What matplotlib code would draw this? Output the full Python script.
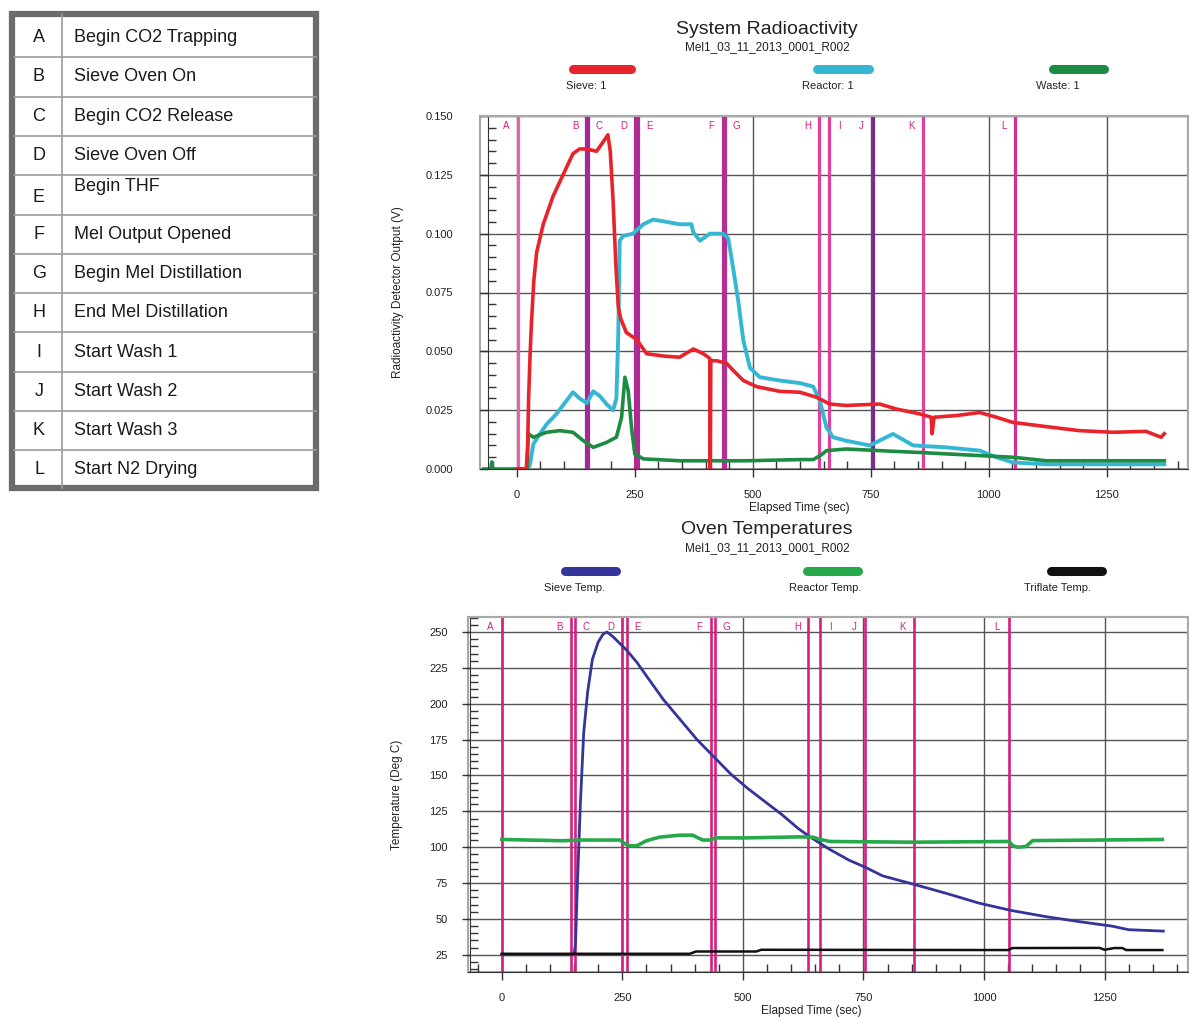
import matplotlib
matplotlib.use("Agg")
import matplotlib.pyplot as plt
from matplotlib.ticker import MultipleLocator, FormatStrFormatter
from matplotlib.lines import Line2D
from matplotlib.patches import Rectangle
from matplotlib.transforms import blended_transform_factory

plt.rcParams['font.family'] = ['Liberation Sans', 'DejaVu Sans']

# ---------------- data ----------------
event_letters = ['A', 'B', 'C', 'D', 'E', 'F', 'G', 'H', 'I', 'J', 'K', 'L']
event_names = ['Begin CO2 Trapping', 'Sieve Oven On', 'Begin CO2 Release', 'Sieve Oven Off',
               'Begin THF', 'Mel Output Opened', 'Begin Mel Distillation', 'End Mel Distillation',
               'Start Wash 1', 'Start Wash 2', 'Start Wash 3', 'Start N2 Drying']
# event times (sec)
event_t_radio = [2, 147, 150, 250, 257, 436, 441, 640, 661, 754, 860, 1055]
event_t_temp = [0, 143, 151, 249, 259, 433, 443, 636, 659, 754, 854, 1051]
label_side = ['L', 'L', 'R', 'L', 'R', 'L', 'R', 'L', 'R', 'L', 'L', 'L']

radio_title = 'System Radioactivity'
temp_title = 'Oven Temperatures'
run_id = 'Mel1_03_11_2013_0001_R002'

radio_ticks_x = [0, 250, 500, 750, 1000, 1250]
radio_ticks_y = [0.000, 0.025, 0.050, 0.075, 0.100, 0.125, 0.150]
temp_ticks_y = [25, 50, 75, 100, 125, 150, 175, 200, 225, 250]

# Sieve 1 detector (V)
t_sieve = [0, 20, 23, 25, 28, 31, 36, 42, 56, 77, 98, 119, 133, 148, 169, 183, 193, 198, 204,
           210, 215, 220, 232, 254, 275, 310, 345, 374, 395, 409, 410, 411, 423, 444, 458, 480,
           508, 557, 600, 635, 663, 698, 769, 804, 854, 878, 880, 884, 931, 981, 1016, 1051,
           1122, 1192, 1263, 1333, 1365, 1372]
v_sieve = [0.000, 0.000, 0.010, 0.030, 0.048, 0.062, 0.080, 0.092, 0.104, 0.116, 0.125, 0.134,
           0.136, 0.136, 0.135, 0.139, 0.142, 0.135, 0.114, 0.086, 0.069, 0.064, 0.058, 0.055,
           0.049, 0.048, 0.0475, 0.051, 0.049, 0.047, 0.000, 0.046, 0.046, 0.045, 0.042, 0.0376,
           0.035, 0.033, 0.0326, 0.0305, 0.0276, 0.027, 0.0276, 0.0255, 0.0234, 0.022, 0.015,
           0.022, 0.0227, 0.024, 0.022, 0.0198, 0.018, 0.0163, 0.0156, 0.016, 0.0135, 0.015]

# Reactor 1 detector (V)
t_reactor = [0, 24, 28, 35, 49, 63, 84, 105, 119, 133, 148, 162, 176, 190, 204, 211, 215, 218,
             225, 246, 268, 289, 317, 345, 370, 374, 388, 409, 437, 448, 458, 469, 480, 494,
             515, 557, 600, 628, 642, 656, 670, 698, 748, 797, 840, 910, 981, 1016, 1051, 1122,
             1263, 1372]
v_reactor = [0.000, 0.000, 0.002, 0.0106, 0.0149, 0.019, 0.0234, 0.029, 0.0326, 0.030, 0.028,
             0.033, 0.031, 0.0276, 0.025, 0.030, 0.057, 0.097, 0.099, 0.100, 0.104, 0.106,
             0.105, 0.104, 0.104, 0.1006, 0.097, 0.100, 0.100, 0.098, 0.0858, 0.0716, 0.0546,
             0.043, 0.039, 0.0376, 0.0365, 0.035, 0.029, 0.0177, 0.0135, 0.012, 0.010, 0.0149,
             0.010, 0.0092, 0.0078, 0.005, 0.0028, 0.002, 0.002, 0.002]

# Waste 1 detector (V)
t_waste = [-70, -55, -53, -51, 0, 22, 24, 35, 63, 91, 119, 141, 162, 190, 211, 222, 229, 236,
           243, 250, 268, 345, 487, 600, 628, 645, 656, 698, 769, 854, 981, 1051, 1122, 1372]
v_waste = [0.000, 0.000, 0.003, 0.000, 0.000, 0.000, 0.015, 0.0135, 0.0156, 0.0163, 0.0156,
           0.012, 0.0092, 0.0113, 0.0135, 0.022, 0.039, 0.0333, 0.0177, 0.0064, 0.0043, 0.0035,
           0.0035, 0.004, 0.004, 0.006, 0.0078, 0.0085, 0.0078, 0.007, 0.0057, 0.005, 0.0035,
           0.0035]

# Sieve oven temperature (deg C)
t_sieve_temp = [0, 150, 153, 157, 163, 170, 178, 188, 200, 210, 218, 230, 245, 260, 280, 300,
                335, 370, 405, 440, 475, 510, 545, 580, 615, 640, 680, 720, 754, 790, 856, 920,
                990, 1055, 1130, 1200, 1265, 1300, 1372]
v_sieve_temp = [25, 25, 33, 75, 130, 180, 208, 231, 243, 248.5, 250, 247, 242, 237, 229, 219.5,
                203, 189, 175, 163, 151, 141, 132, 123, 113, 107, 98.5, 91, 86, 80, 74, 68, 61,
                56, 51.5, 48, 45, 42.5, 41.5]

# Reactor oven temperature (deg C)
t_reactor_temp = [0, 127, 162, 245, 255, 265, 280, 300, 327, 369, 396, 407, 417, 431, 445, 507,
                  617, 645, 660, 680, 852, 1052, 1060, 1070, 1087, 1101, 1370]
v_reactor_temp = [105.4, 104.5, 105, 105, 102.5, 101, 101, 104.5, 107, 108.4, 108.4, 106.5,
                  105, 105, 106.5, 106.5, 107.2, 107, 105.5, 104, 103.5, 104, 101, 100, 100.5,
                  104.6, 105.4]

# Triflate oven temperature (deg C)
t_triflate = [0, 390, 403, 528, 538, 1050, 1059, 1240, 1250, 1270, 1287, 1295, 1370]
v_triflate = [25.7, 25.7, 27.3, 27.3, 28.5, 28.3, 29.7, 29.8, 28.5, 29.7, 29.7, 28.3, 28.3]

# ---------------- styles ----------------
W, H = 1189, 1017
C_RED, C_CYAN, C_WASTE = '#e8232b', '#35b6d3', '#1d8c43'
C_STEMP, C_RTEMP, C_TTEMP = '#34349a', '#27a84a', '#111111'
C_EVT = '#d4207f'
evt_colors_radio = ['#e266a6', '#a3289a', '#a3289a', '#b02a95', '#b02a95', '#b43090', '#b43090',
                    '#e0409a', '#e0409a', '#7a2a90', '#e0409a', '#d4308f']
GRID = '#555555'
FRAME = '#a8a8a8'


def fx(x):
    return x / W


def fy(y):
    return 1 - y / H


fig = plt.figure(figsize=(W / 100, H / 100), dpi=100)
fig.patch.set_facecolor('white')

# ---------------- event table ----------------
axt = fig.add_axes([0, 0, 1, 1], zorder=-5)
axt.set_xlim(0, W)
axt.set_ylim(H, 0)
axt.axis('off')
row_h = 39.3
top0 = 18
for k in range(1, len(event_letters)):
    axt.plot([14, 316], [top0 + k * row_h] * 2, color='#9c9c9c', lw=1.2)
axt.plot([62, 62], [14, 488], color='#9c9c9c', lw=1.2)
axt.add_patch(Rectangle((12, 14), 304, 474, fill=False, ec='#6b6b6b', lw=4.5))
for k, (let, name) in enumerate(zip(event_letters, event_names)):
    yc = top0 + (k + 0.5) * row_h
    dy_l, dy_n = (3, -8) if let == 'E' else (0, 0)
    axt.text(39, yc + dy_l, let, ha='center', va='center', fontsize=13, color='#1a1a1a')
    axt.text(74, yc + dy_n, name, ha='left', va='center', fontsize=13, color='#1a1a1a')


# ---------------- helpers ----------------
def style_axes(ax, spine_x, ylab, xminor, yminor, ypad):
    ax.set_facecolor('white')
    for s in ['top', 'right']:
        ax.spines[s].set_color(FRAME)
        ax.spines[s].set_linewidth(1.5)
    ax.spines['left'].set_position(('data', spine_x))
    ax.spines['left'].set_color('#333333')
    ax.spines['bottom'].set_color('#333333')
    ax.add_patch(Rectangle((0, 0), 1, 1, transform=ax.transAxes, fill=False, ec=FRAME,
                           lw=1.5, zorder=0.5, clip_on=False))
    ax.grid(True, which='major', color=GRID, lw=1.0, zorder=0)
    ax.set_axisbelow(True)
    ax.xaxis.set_minor_locator(MultipleLocator(xminor))
    ax.yaxis.set_minor_locator(MultipleLocator(yminor))
    ax.tick_params(which='major', direction='out', length=6, width=1, color='#333333',
                   labelsize=8, labelcolor='#222222')
    ax.tick_params(axis='y', which='major', pad=ypad)
    ax.tick_params(axis='x', which='major', pad=9)
    ax.tick_params(which='minor', direction='in', length=6, width=1, color='#333333')
    ax.set_xlabel('Elapsed Time (sec)', fontsize=8.5, color='#222222')
    ax.set_ylabel(ylab, fontsize=8.5, color='#222222')


def draw_events(ax, times, colors, lw):
    trans = blended_transform_factory(ax.transData, ax.transAxes)
    for let, t, side, c in zip(event_letters, times, label_side, colors):
        ax.axvline(t, color=c, lw=lw, zorder=1.5)
        off = -8 if side == 'L' else 8
        ax.annotate(let, xy=(t, 0.972), xycoords=trans, xytext=(off, 0),
                    textcoords='offset points', ha='center', va='center', fontsize=7,
                    color=C_EVT, zorder=3)


def legend_row(y_bar, y_lab, items):
    for (x0, x1, xl, c, lab) in items:
        cap = 4.5
        fig.add_artist(Line2D([fx(x0 + cap), fx(x1 - cap)], [fy(y_bar)] * 2, lw=6.5, color=c,
                              solid_capstyle='round', transform=fig.transFigure))
        fig.text(fx(xl), fy(y_lab), lab, ha='center', va='center', fontsize=8, color='#222222')


# ---------------- top chart ----------------
ax1 = fig.add_axes([fx(480), fy(469), fx(1189 - 480) - 0.0005, (469 - 116) / H])
ax1.set_xlim(-78, 1423)
ax1.set_ylim(0, 0.150)
ax1.set_xticks(radio_ticks_x)
ax1.set_yticks(radio_ticks_y)
ax1.yaxis.set_major_formatter(FormatStrFormatter('%.3f'))
style_axes(ax1, -61, 'Radioactivity Detector Output (V)', 50, 0.005, 19)
draw_events(ax1, event_t_radio, evt_colors_radio, 2.3)
ax1.plot(t_waste, v_waste, color=C_WASTE, lw=2.6, zorder=2.2)
ax1.plot(t_reactor, v_reactor, color=C_CYAN, lw=2.8, zorder=2.1)
ax1.plot(t_sieve, v_sieve, color=C_RED, lw=2.6, zorder=2.3)
ax1.xaxis.set_label_coords((800 - 480) / 709, (469 - 502) / 353)
ax1.yaxis.set_label_coords((404 - 480) / 709, 0.5)

fig.text(fx(767), fy(30), radio_title, ha='center', va='center', fontsize=14, color='#222222')
fig.text(fx(767), fy(47), run_id, ha='center', va='center', fontsize=8.5, color='#222222')
legend_row(69, 86, [(568, 635, 586, C_RED, 'Sieve: 1'),
                    (812, 873, 828, C_CYAN, 'Reactor: 1'),
                    (1048, 1108, 1058, C_WASTE, 'Waste: 1')])

# ---------------- bottom chart ----------------
ax2 = fig.add_axes([fx(468), fy(972), fx(1189 - 468) - 0.0005, (972 - 617) / H])
ax2.set_xlim(-70, 1424)
ax2.set_ylim(13, 260.5)
ax2.set_xticks(radio_ticks_x)
ax2.set_yticks(temp_ticks_y)
style_axes(ax2, -66, 'Temperature (Deg C)', 50, 5, 10)
draw_events(ax2, event_t_temp, [C_EVT] * len(event_letters), 1.9)
ax2.plot(t_sieve_temp, v_sieve_temp, color=C_STEMP, lw=2.0, zorder=2.1)
ax2.plot(t_reactor_temp, v_reactor_temp, color=C_RTEMP, lw=2.6, zorder=2.2)
ax2.plot(t_triflate, v_triflate, color=C_TTEMP, lw=1.8, zorder=2.3)
ax2.xaxis.set_label_coords((812 - 468) / 721, (972 - 1005) / 355)
ax2.yaxis.set_label_coords((403 - 468) / 721, 0.5)

fig.text(fx(767), fy(530), temp_title, ha='center', va='center', fontsize=14, color='#222222')
fig.text(fx(767), fy(548), run_id, ha='center', va='center', fontsize=8.5, color='#222222')
legend_row(571, 588, [(560, 620, 575, C_STEMP, 'Sieve Temp.'),
                      (802, 862, 825, C_RTEMP, 'Reactor Temp.'),
                      (1046, 1106, 1058, C_TTEMP, 'Triflate Temp.')])

fig.savefig('out.png', dpi=100, facecolor='white')
